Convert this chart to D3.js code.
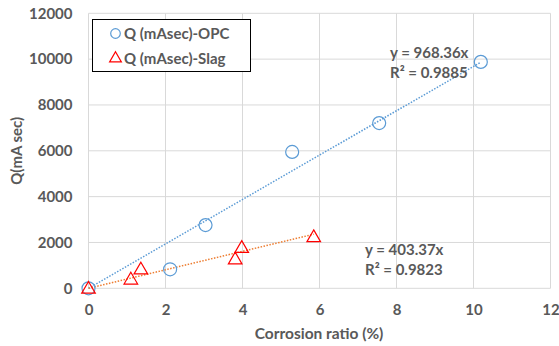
<!DOCTYPE html>
<html>
<head>
<meta charset="utf-8">
<script src="https://cdn.jsdelivr.net/npm/d3@7"></script>
<style>
  body { margin: 0; background: #fff; }
  text { font-family: Lato, "Open Sans", sans-serif; font-weight: bold; fill: #595959; }
</style>
</head>
<body>
<div id="chart"></div>
<script>
const width = 559;
const height = 346;

// data
const opcX = [0, 2.12, 3.04, 5.29, 7.55, 10.19];
const opcY = [0, 830, 2760, 5950, 7210, 9880];
const slagX = [0, 1.1, 1.36, 3.81, 3.98, 5.85];
const slagY = [0, 400, 840, 1280, 1780, 2250];
const opcSlope = 968.36;
const slagSlope = 403.37;
const xTicks = [0, 2, 4, 6, 8, 10, 12];
const yTicks = [0, 2000, 4000, 6000, 8000, 10000, 12000];
const seriesNames = ["Q (mAsec)-OPC", "Q (mAsec)-Slag"];

const plotLeft = 88.5, plotRight = 550.5, plotTop = 13.3, plotBottom = 288.3;

let svg = d3.select("#chart").append("svg")
    .attr("width", width)
    .attr("height", height);

let x = d3.scaleLinear().domain([0, 12]).range([plotLeft, plotRight]);
let y = d3.scaleLinear().domain([0, 12000]).range([plotBottom, plotTop]);

// gridlines
svg.append("g").selectAll("line").data(xTicks).enter().append("line")
    .attr("x1", d => x(d)).attr("x2", d => x(d))
    .attr("y1", plotTop).attr("y2", plotBottom)
    .attr("stroke", "#d9d9d9").attr("stroke-width", 1);
svg.append("g").selectAll("line").data(yTicks).enter().append("line")
    .attr("x1", plotLeft).attr("x2", plotRight)
    .attr("y1", d => y(d)).attr("y2", d => y(d))
    .attr("stroke", "#d9d9d9").attr("stroke-width", 1);

// axes labels
let xAxis = svg.append("g")
    .attr("transform", `translate(0,${plotBottom + 8})`)
    .call(d3.axisBottom(x).tickValues(xTicks).tickSize(0).tickPadding(8));
xAxis.select(".domain").remove();
xAxis.selectAll("text").style("font-size", "15px").style("font-family", null);

let yAxis = svg.append("g")
    .attr("transform", `translate(${plotLeft - 16},0)`)
    .call(d3.axisLeft(y).tickValues(yTicks).tickSize(0).tickPadding(0).tickFormat(d3.format("d")));
yAxis.select(".domain").remove();
yAxis.selectAll("text").style("font-size", "15px").style("font-family", null);

svg.append("text")
    .attr("x", 319).attr("y", 339)
    .attr("text-anchor", "middle")
    .style("font-size", "15.5px")
    .text("Corrosion ratio (%)");

svg.append("text")
    .attr("transform", `translate(22,${(plotTop + plotBottom) / 2}) rotate(-90)`)
    .attr("text-anchor", "middle")
    .style("font-size", "15px")
    .text("Q(mA sec)");

// trendlines
svg.append("line")
    .attr("x1", x(0)).attr("y1", y(0))
    .attr("x2", x(d3.max(opcX))).attr("y2", y(opcSlope * d3.max(opcX)))
    .attr("stroke", "#5b9bd5").attr("stroke-width", 1.5)
    .attr("stroke-dasharray", "1.5,1.5");
svg.append("line")
    .attr("x1", x(0)).attr("y1", y(0))
    .attr("x2", x(d3.max(slagX))).attr("y2", y(slagSlope * d3.max(slagX)))
    .attr("stroke", "#ed7d31").attr("stroke-width", 1.5)
    .attr("stroke-dasharray", "1.5,1.5");

// markers
const tri = d3.symbol().type(d3.symbolTriangle).size(80);

svg.append("g").selectAll("circle").data(opcX).enter().append("circle")
    .attr("cx", d => x(d))
    .attr("cy", (d, i) => y(opcY[i]))
    .attr("r", 6.5)
    .attr("fill", "none")
    .attr("stroke", "#5b9bd5")
    .attr("stroke-width", 1.2);

svg.append("g").selectAll("path").data(slagX).enter().append("path")
    .attr("d", tri)
    .attr("transform", (d, i) => `translate(${x(d)},${y(slagY[i]) + 1})`)
    .attr("fill", "none")
    .attr("stroke", "#ff0000")
    .attr("stroke-width", 1.2);

// trendline labels
svg.append("text").attr("x", 390).attr("y", 58).style("font-size", "15px").text("y = 968.36x");
svg.append("text").attr("x", 390).attr("y", 78).style("font-size", "15px").text("R² = 0.9885");
svg.append("text").attr("x", 365).attr("y", 255).style("font-size", "15px").text("y = 403.37x");
svg.append("text").attr("x", 365).attr("y", 275).style("font-size", "15px").text("R² = 0.9823");

// legend
let legend = svg.append("g");
legend.append("rect")
    .attr("x", 92.5).attr("y", 19.5)
    .attr("width", 158).attr("height", 52)
    .attr("fill", "#fff").attr("stroke", "#000").attr("stroke-width", 1);
legend.append("circle")
    .attr("cx", 115.5).attr("cy", 33.5).attr("r", 4.8)
    .attr("fill", "none").attr("stroke", "#5b9bd5").attr("stroke-width", 1.2);
legend.append("path")
    .attr("d", d3.symbol().type(d3.symbolTriangle).size(60))
    .attr("transform", "translate(115.5,58.5)")
    .attr("fill", "none").attr("stroke", "#ff0000").attr("stroke-width", 1.2);
legend.selectAll("text.leg").data(seriesNames).enter().append("text")
    .attr("class", "leg")
    .attr("x", 124).attr("y", (d, i) => 39 + i * 25)
    .style("font-size", "15px")
    .text(d => d);
</script>
</body>
</html>
